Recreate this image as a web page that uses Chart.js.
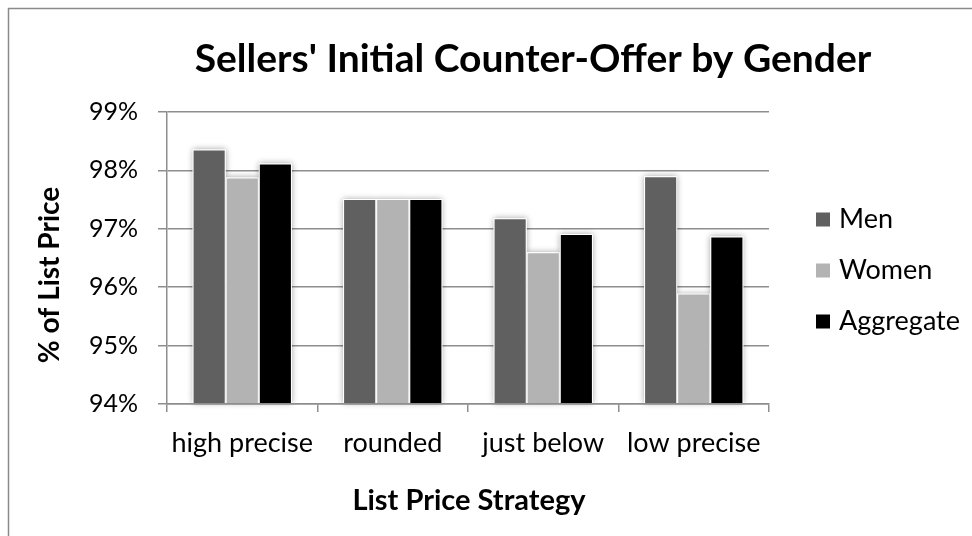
<!DOCTYPE html>
<html>
<head>
<meta charset="utf-8">
<script src="https://cdn.jsdelivr.net/npm/chart.js@4/dist/chart.umd.min.js"></script>
<style>
  html, body { margin: 0; padding: 0; background: #fff; }
  #wrap { width: 972px; height: 536px; }
</style>
</head>
<body>
<div id="wrap"><canvas id="c" width="972" height="536"></canvas></div>
<script>
// ---- data ----
const categories = ['high precise', 'rounded', 'just below', 'low precise'];
const seriesNames = ['Men', 'Women', 'Aggregate'];
const men = [98.36, 97.51, 97.18, 97.90];
const women = [97.88, 97.51, 96.60, 95.89];
const aggregate = [98.12, 97.51, 96.91, 96.87];
const yTicks = [94, 95, 96, 97, 98, 99];
const chartTitle = "Sellers' Initial Counter-Offer by Gender";
const xTitle = 'List Price Strategy';
const yTitle = '% of List Price';

const colors = ['#606060', '#b3b3b3', '#000000'];
const FONT = 'Lato, "DejaVu Sans", sans-serif';
const gridColor = '#8e8e8e';

const overlay = {
  id: 'overlay',
  beforeDatasetsDraw(chart) {
    const ctx = chart.ctx;
    const bottom = chart.chartArea.bottom;
    ctx.save();
    ctx.shadowColor = 'rgba(0,0,0,0.35)';
    ctx.shadowBlur = 6;
    ctx.fillStyle = '#ffffff';
    chart.data.datasets.forEach((ds, i) => {
      chart.getDatasetMeta(i).data.forEach(bar => {
        const p = bar.getProps(['x', 'y', 'width'], true);
        ctx.fillRect(p.x - p.width / 2, p.y, p.width, bottom - p.y - 1);
      });
    });
    ctx.restore();
  },
  afterDraw(chart) {
    const ctx = chart.ctx;
    ctx.save();
    // frame
    ctx.strokeStyle = '#8a8a8a';
    ctx.lineWidth = 1.5;
    ctx.beginPath();
    ctx.moveTo(8.5, 540);
    ctx.lineTo(8.5, 8.5);
    ctx.lineTo(980, 8.5);
    ctx.stroke();
    // title
    ctx.fillStyle = '#000';
    ctx.textAlign = 'center';
    ctx.textBaseline = 'alphabetic';
    ctx.font = 'bold 39px ' + FONT;
    ctx.fillText(chartTitle, 533, 72);
    // x title
    ctx.font = 'bold 29px ' + FONT;
    ctx.fillText(xTitle, 469, 510);
    // y title
    ctx.font = 'bold 28px ' + FONT;
    ctx.save();
    ctx.translate(59, 275);
    ctx.rotate(-Math.PI / 2);
    ctx.fillText(yTitle, 0, 0);
    ctx.restore();
    // legend
    const ys = [219.5, 270.5, 321.5];
    ctx.textAlign = 'left';
    ctx.font = '27px ' + FONT;
    chart.data.datasets.forEach((ds, i) => {
      ctx.fillStyle = ds.backgroundColor;
      ctx.fillRect(816, ys[i] - 7, 14, 14);
      ctx.fillStyle = '#000';
      ctx.fillText(ds.label, 839, ys[i] + 8);
    });
    ctx.restore();
  }
};

const seriesData = [men, women, aggregate];
new Chart(document.getElementById('c'), {
  type: 'bar',
  data: {
    labels: categories,
    datasets: seriesNames.map((n, i) => ({
      label: n,
      data: seriesData[i],
      backgroundColor: colors[i],
      borderColor: '#ffffff',
      borderWidth: 1,
      borderSkipped: 'start',
      categoryPercentage: 0.66,
      barPercentage: 1.0
    }))
  },
  options: {
    responsive: false,
    animation: false,
    devicePixelRatio: 1,
    layout: { padding: { top: 112, right: 203, bottom: 0, left: 0 } },
    plugins: {
      legend: { display: false },
      title: { display: false },
      tooltip: { enabled: false }
    },
    scales: {
      x: {
        grid: { offset: true, drawOnChartArea: false, drawTicks: true, tickLength: 8, color: gridColor, lineWidth: 1.5 },
        border: { color: gridColor, width: 1.5, z: 1 },
        ticks: { color: '#000', font: { family: FONT, size: 27 }, padding: 15, maxRotation: 0 },
        afterFit(s) { s.height = 132; }
      },
      y: {
        min: yTicks[0],
        max: yTicks[yTicks.length - 1],
        afterBuildTicks(s) { s.ticks = yTicks.map(v => ({ value: v })); },
        ticks: { color: '#000', font: { family: FONT, size: 25 }, padding: 20, callback: v => v + '%' },
        grid: { color: gridColor, lineWidth: 1.5, tickLength: 9 },
        border: { color: gridColor, width: 1.5 },
        afterFit(s) { s.width = 167; }
      }
    }
  },
  plugins: [overlay]
});
</script>
</body>
</html>
